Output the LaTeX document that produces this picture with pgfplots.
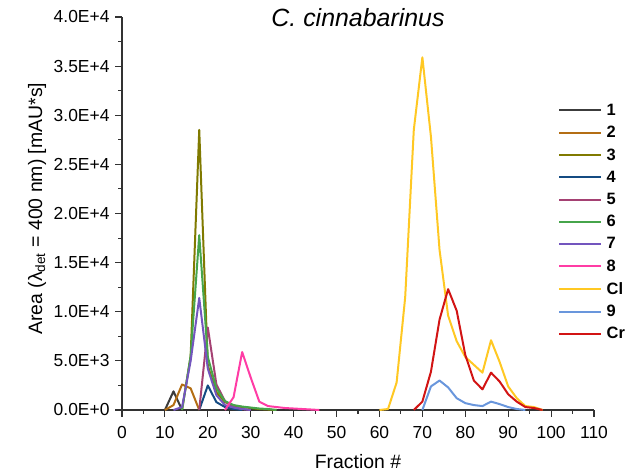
\documentclass[border=0pt]{standalone}
\usepackage{fontspec}
\setmainfont{Liberation Sans}
\usepackage{pgfplots}
\pgfplotsset{compat=1.18}

\definecolor{cOne}{RGB}{60,60,60}
\definecolor{cTwo}{RGB}{180,110,20}
\definecolor{cThree}{RGB}{128,122,0}
\definecolor{cFour}{RGB}{20,75,130}
\definecolor{cFive}{RGB}{165,65,115}
\definecolor{cSix}{RGB}{70,165,75}
\definecolor{cSeven}{RGB}{115,85,190}
\definecolor{cEight}{RGB}{255,60,165}
\definecolor{cCl}{RGB}{255,200,35}
\definecolor{cNine}{RGB}{105,150,220}
\definecolor{cCr}{RGB}{210,20,20}
\definecolor{axgray}{RGB}{50,50,50}

\begin{document}
\begin{tikzpicture}[x=1bp,y=1bp]
\begin{axis}[
    at={(122bp,61bp)}, anchor=south west,
    scale only axis, width=472bp, height=393bp,
    xmin=0, xmax=110, ymin=0, ymax=40000,
    axis lines=left,
    axis line style={-, line width=1.2bp, color=axgray},
    tick align=outside,
    major tick length=7bp, minor tick length=4bp,
    tick style={line width=1.1bp, color=axgray},
    xtick={0,10,20,30,40,50,60,70,80,90,100,110},
    xticklabels={0,10,20,30,40,50,60,70,80,90,100,110},
    minor x tick num=1,
    ytick={0,5000,10000,15000,20000,25000,30000,35000,40000},
    yticklabels={0.0E+0,5.0E+3,1.0E+4,1.5E+4,2.0E+4,2.5E+4,3.0E+4,3.5E+4,4.0E+4},
    minor y tick num=1,
    scaled y ticks=false,
    tick label style={font=\fontsize{17.5}{20}\selectfont},
    xticklabel style={anchor=center, yshift=-16bp},
    yticklabel style={anchor=east, xshift=-2bp},
    xlabel={Fraction \#},
    xlabel style={font=\fontsize{19.5}{22}\selectfont, at={(axis description cs:0.5,-0.13)}, anchor=center},
    ylabel={Area (λ\textsubscript{det} = 400 nm) [mAU*s]},
    ylabel style={font=\fontsize{19.5}{22}\selectfont, at={(axis description cs:-0.18,0.512)}, anchor=center},
    title={\itshape C. cinnabarinus},
    title style={font=\fontsize{25}{28}\selectfont, at={(axis description cs:0.5,1)}, anchor=center, yshift=-7bp},
    clip=false,
    legend style={draw=none, fill=none, inner sep=0bp, outer sep=0bp,
        at={(axis description cs:0.924,0.78)}, anchor=north west,
        font=\bfseries\fontsize{16.5}{18}\selectfont,
        row sep=8.4bp, column sep=4bp, nodes={inner sep=0.5bp}},
    legend cell align=left,
    legend image code/.code={\draw[#1] (0bp,0bp) -- (42bp,0bp);},
    every axis plot/.append style={line width=2bp, line join=round},
]
\addplot[cOne] coordinates {(10,0)(12,1900)(14,0)};
\addplot[cTwo] coordinates {(10,0)(12,500)(14,2600)(16,2200)(18,0)};
\addplot[cThree] coordinates {(14,0)(16,5500)(18,28500)(20,4500)(22,1800)(24,800)(26,450)(28,300)(30,200)(32,100)(34,50)(36,0)};
\addplot[cFour] coordinates {(18,0)(20,2500)(22,800)(24,300)(26,100)(28,0)};
\addplot[cFive] coordinates {(18,0)(20,8400)(22,2600)(24,900)(26,300)(28,100)(30,0)};
\addplot[cSix] coordinates {(14,0)(16,5500)(18,17800)(20,5400)(22,2200)(24,900)(26,500)(28,350)(30,250)(32,150)(34,100)(36,0)};
\addplot[cSeven] coordinates {(12,0)(14,300)(16,5000)(18,11400)(20,4200)(22,1500)(24,500)(26,250)(28,100)(30,0)};
\addplot[cEight] coordinates {(24,0)(26,1300)(28,5900)(30,3300)(32,850)(34,400)(36,300)(38,200)(40,150)(42,100)(44,50)(46,0)};
\addplot[cCl] coordinates {(60,0)(62,100)(64,2800)(66,11500)(68,28500)(70,35900)(72,27800)(74,16300)(76,9600)(78,7000)(80,5400)(82,4600)(84,3800)(86,7100)(88,4900)(90,2400)(92,1200)(94,400)(96,300)(98,0)};
\addplot[cNine] coordinates {(70,0)(72,2400)(74,3000)(76,2300)(78,1200)(80,700)(82,500)(84,400)(86,850)(88,600)(90,300)(92,100)(94,0)};
\addplot[cCr] coordinates {(68,0)(70,850)(72,3900)(74,9200)(76,12300)(78,10100)(80,5600)(82,3000)(84,2100)(86,3800)(88,2900)(90,1600)(92,850)(94,300)(96,200)(98,0)};
\legend{1,2,3,4,5,6,7,8,Cl,9,Cr}
\end{axis}
\pgfresetboundingbox
\path[use as bounding box] (0,0) rectangle (627,471);
\end{tikzpicture}
\end{document}
